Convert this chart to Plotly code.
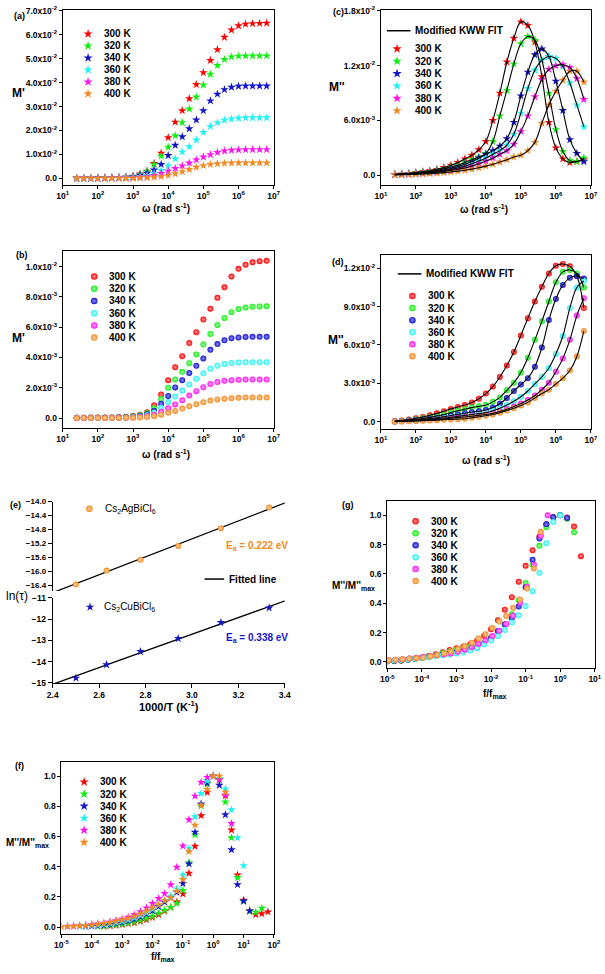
import plotly.graph_objects as go

W, H = 605, 974
FONT = "Liberation Sans"

# ---------------- data ----------------
temps = ["300 K", "320 K", "340 K", "360 K", "380 K", "400 K"]
colors = ["#FF0000", "#11EE11", "#1414C8", "#22F2F2", "#FF14F0", "#F28A22"]
tints = ["#FF9A9A", "#A8FFA8", "#8C8CFF", "#C8FFFF", "#FFA8FA", "#FFD0A0"]

logw = [1.4, 1.6, 1.8, 2.0, 2.2, 2.4, 2.6, 2.8, 3.0, 3.2, 3.4, 3.6, 3.8, 4.0,
        4.2, 4.4, 4.6, 4.8, 5.0, 5.2, 5.4, 5.6, 5.8, 6.0, 6.2, 6.4, 6.6, 6.8]

# (a) M' (x1e-2), Cs2CuBiCl6
a_300 = [0.0, 0.0, 0.0, 0.01, 0.01, 0.02, 0.03, 0.05, 0.09, 0.18, 0.3, 0.62, 1.05, 1.7, 2.35, 2.83, 3.33, 3.92, 4.42, 4.93, 5.38, 5.9, 6.2, 6.38, 6.45, 6.47, 6.48, 6.49]
a_320 = [0.0, 0.0, 0.0, 0.01, 0.01, 0.02, 0.03, 0.05, 0.08, 0.16, 0.3, 0.57, 0.93, 1.3, 1.78, 2.33, 2.9, 3.4, 3.9, 4.35, 4.72, 4.97, 5.08, 5.11, 5.12, 5.12, 5.12, 5.12]
a_340 = [0.0, 0.0, 0.0, 0.01, 0.01, 0.02, 0.02, 0.04, 0.07, 0.13, 0.22, 0.35, 0.58, 0.95, 1.38, 1.74, 2.07, 2.44, 2.83, 3.24, 3.52, 3.71, 3.81, 3.85, 3.86, 3.86, 3.86, 3.86]
a_360 = [0.0, 0.0, 0.0, 0.0, 0.01, 0.01, 0.02, 0.03, 0.04, 0.07, 0.12, 0.2, 0.33, 0.52, 0.82, 1.1, 1.32, 1.6, 1.92, 2.17, 2.33, 2.43, 2.48, 2.51, 2.53, 2.53, 2.53, 2.53]
a_380 = [0.0, 0.0, 0.0, 0.0, 0.0, 0.01, 0.01, 0.01, 0.02, 0.04, 0.07, 0.12, 0.2, 0.3, 0.41, 0.52, 0.64, 0.77, 0.89, 0.99, 1.08, 1.14, 1.17, 1.19, 1.2, 1.2, 1.2, 1.2]
a_400 = [0.0, 0.0, 0.0, 0.0, 0.0, 0.0, 0.0, 0.0, 0.0, 0.01, 0.02, 0.04, 0.07, 0.12, 0.19, 0.28, 0.37, 0.46, 0.53, 0.58, 0.61, 0.63, 0.64, 0.64, 0.64, 0.64, 0.64, 0.64]

# (b) M' (x1e-3), Cs2AgBiCl6
b_300 = [0.02, 0.02, 0.03, 0.03, 0.04, 0.04, 0.05, 0.08, 0.13, 0.22, 0.38, 0.85, 1.55, 2.5, 3.35, 4.08, 4.95, 5.67, 6.5, 7.22, 7.95, 8.63, 9.35, 9.85, 10.12, 10.28, 10.36, 10.38]
b_320 = [0.02, 0.02, 0.02, 0.03, 0.03, 0.03, 0.04, 0.06, 0.1, 0.18, 0.32, 0.65, 1.25, 2.0, 2.55, 3.05, 3.62, 4.2, 4.85, 5.55, 6.15, 6.6, 6.98, 7.2, 7.3, 7.35, 7.37, 7.38]
b_340 = [0.01, 0.01, 0.02, 0.02, 0.02, 0.02, 0.03, 0.05, 0.08, 0.14, 0.25, 0.48, 0.95, 1.46, 2.02, 2.5, 2.98, 3.45, 3.93, 4.5, 4.88, 5.13, 5.27, 5.32, 5.35, 5.36, 5.36, 5.36]
b_360 = [0.01, 0.01, 0.01, 0.01, 0.01, 0.01, 0.02, 0.03, 0.06, 0.1, 0.18, 0.35, 0.68, 1.05, 1.42, 1.82, 2.22, 2.6, 2.95, 3.25, 3.45, 3.57, 3.63, 3.66, 3.68, 3.68, 3.68, 3.68]
b_380 = [0.0, 0.0, 0.0, 0.01, 0.01, 0.01, 0.01, 0.02, 0.04, 0.07, 0.12, 0.22, 0.42, 0.65, 0.9, 1.18, 1.48, 1.77, 2.03, 2.25, 2.38, 2.46, 2.5, 2.53, 2.55, 2.55, 2.55, 2.55]
b_400 = [0.0, 0.0, 0.0, 0.0, 0.0, 0.0, 0.0, 0.01, 0.02, 0.04, 0.07, 0.12, 0.22, 0.34, 0.47, 0.62, 0.77, 0.91, 1.04, 1.15, 1.23, 1.28, 1.31, 1.33, 1.35, 1.35, 1.35, 1.35]

# (c) M'' (x1e-2), Cs2CuBiCl6
c_300 = [0.01, 0.015, 0.02, 0.03, 0.04, 0.05, 0.065, 0.085, 0.11, 0.14, 0.18, 0.22, 0.28, 0.37, 0.6, 0.9, 1.24, 1.5, 1.68, 1.64, 1.46, 1.08, 0.58, 0.3, 0.18, 0.14, 0.15, 0.17]
c_320 = [0.01, 0.012, 0.018, 0.025, 0.033, 0.042, 0.055, 0.07, 0.09, 0.11, 0.14, 0.17, 0.2, 0.24, 0.37, 0.65, 0.93, 1.22, 1.44, 1.52, 1.48, 1.26, 0.9, 0.5, 0.26, 0.16, 0.15, 0.19]
c_340 = [0.008, 0.01, 0.015, 0.02, 0.027, 0.035, 0.045, 0.058, 0.075, 0.095, 0.12, 0.15, 0.19, 0.23, 0.27, 0.32, 0.4, 0.58, 0.87, 1.13, 1.32, 1.384, 1.3, 1.03, 0.71, 0.39, 0.24, 0.15]
c_360 = [0.008, 0.01, 0.014, 0.019, 0.025, 0.032, 0.04, 0.05, 0.063, 0.08, 0.1, 0.125, 0.155, 0.19, 0.23, 0.27, 0.33, 0.45, 0.68, 0.95, 1.15, 1.26, 1.3, 1.28, 1.19, 1.01, 0.77, 0.53]
c_380 = [0.006, 0.008, 0.011, 0.015, 0.02, 0.026, 0.033, 0.042, 0.052, 0.065, 0.08, 0.1, 0.125, 0.155, 0.19, 0.23, 0.27, 0.34, 0.48, 0.65, 0.86, 1.05, 1.16, 1.2, 1.21, 1.18, 1.06, 0.83]
c_400 = [0.004, 0.006, 0.008, 0.011, 0.014, 0.018, 0.023, 0.029, 0.036, 0.045, 0.055, 0.067, 0.082, 0.1, 0.12, 0.145, 0.17, 0.2, 0.22, 0.27, 0.36, 0.57, 0.77, 0.92, 1.04, 1.14, 1.14, 1.02]

# (d) M'' (x1e-3), Cs2AgBiCl6
d_300 = [0.05, 0.1, 0.18, 0.27, 0.37, 0.5, 0.65, 0.82, 1.0, 1.15, 1.3, 1.5, 1.8, 2.2, 2.75, 3.5, 4.4, 5.45, 6.75, 8.1, 9.4, 10.55, 11.6, 12.2, 12.34, 12.15, 11.4, 8.9]
d_320 = [0.03, 0.07, 0.12, 0.18, 0.26, 0.34, 0.44, 0.56, 0.72, 0.85, 0.98, 1.1, 1.2, 1.3, 1.55, 1.9, 2.45, 3.05, 3.85, 5.0, 6.4, 7.85, 9.4, 10.9, 11.72, 11.87, 11.6, 10.5]
d_340 = [0.02, 0.05, 0.09, 0.13, 0.18, 0.24, 0.31, 0.39, 0.48, 0.57, 0.66, 0.74, 0.82, 0.92, 1.1, 1.4, 1.85, 2.4, 2.9, 3.4, 4.3, 5.8, 7.95, 9.6, 10.7, 11.25, 11.4, 11.2]
d_360 = [0.02, 0.04, 0.07, 0.1, 0.14, 0.18, 0.23, 0.29, 0.35, 0.42, 0.49, 0.56, 0.63, 0.7, 0.85, 1.05, 1.3, 1.6, 1.95, 2.4, 2.95, 3.5, 4.2, 5.3, 6.7, 8.9, 10.5, 11.0]
d_380 = [0.01, 0.03, 0.05, 0.08, 0.11, 0.14, 0.18, 0.22, 0.27, 0.32, 0.37, 0.43, 0.49, 0.56, 0.66, 0.8, 0.97, 1.18, 1.42, 1.7, 2.05, 2.5, 3.05, 3.9, 4.95, 6.4, 8.3, 9.65]
d_400 = [0.0, 0.01, 0.03, 0.05, 0.07, 0.09, 0.12, 0.15, 0.18, 0.2, 0.23, 0.3, 0.38, 0.46, 0.56, 0.7, 0.87, 1.05, 1.27, 1.51, 1.85, 2.2, 2.5, 2.95, 3.4, 4.0, 5.1, 7.1]

# (e) Arrhenius
e_x = [2.5, 2.632, 2.778, 2.941, 3.125, 3.333]
e_ag = [-16.37, -15.97, -15.66, -15.27, -14.76, -14.17]
e_cu = [-14.77, -14.14, -13.52, -12.91, -12.16, -11.47]
fit_x = [2.4, 3.42]
fit_ag = [-16.6, -13.99]
fit_cu = [-15.06, -11.07]

# (g) normalisation constants (peak log10 omega, M''max x1e-3)
g_peak_logw = [6.2, 6.4, 6.6, 6.8, 7.16, 7.36]
g_peak_val = [12.34, 11.87, 11.4, 11.0, 9.65, 8.0]

a_set = [a_300, a_320, a_340, a_360, a_380, a_400]
b_set = [b_300, b_320, b_340, b_360, b_380, b_400]
c_set = [c_300, c_320, c_340, c_360, c_380, c_400]
d_set = [d_300, d_320, d_340, d_360, d_380, d_400]

omega = [10 ** v for v in logw]

# normalised scaling for (f) from (c)
f_x, f_y = [], []
for vals in c_set:
    i = max(range(len(vals)), key=lambda k: vals[k])
    f_x.append([10 ** (lw - logw[i]) for lw in logw])
    f_y.append([v / vals[i] for v in vals])
# normalised scaling for (g) from (d)
g_x, g_y = [], []
for vals, pl, pv in zip(d_set, g_peak_logw, g_peak_val):
    g_x.append([10 ** (lw - pl) for lw in logw])
    g_y.append([v / pv for v in vals])

STAR = 6.5
CIRC = 6

# ---------------- helpers ----------------
def dom_x(a, b):
    return [a / W, b / W]

def dom_y(top, bot):
    return [1 - bot / H, 1 - top / H]

def base_axis(**kw):
    d = dict(showline=True, linecolor="black", linewidth=1, mirror=True,
             ticks="outside", ticklen=3, tickwidth=1, tickcolor="black",
             showgrid=False, zeroline=False,
             tickfont=dict(family=FONT, size=8.5, color="black", weight="bold"))
    d.update(kw)
    return d

def logticks(lo, hi):
    return dict(tickvals=[10 ** k for k in range(lo, hi + 1)],
                ticktext=["10<sup>%d</sup>" % k for k in range(lo, hi + 1)])

fig = go.Figure()

def add_series(xs, ys, xa, ya, symbol, size, gradient=False, fit=False):
    for i in range(6):
        mk = dict(symbol=symbol, size=size, color=colors[i], line=dict(width=0))
        if gradient:
            mk["gradient"] = dict(type="radial", color=tints[i])
        xv = xs[i] if isinstance(xs[0], list) else xs
        fig.add_trace(go.Scatter(x=xv, y=ys[i], mode="markers", marker=mk,
                                 xaxis=xa, yaxis=ya, showlegend=False,
                                 cliponaxis=True))
    if fit:
        for i in range(6):
            xv = xs[i] if isinstance(xs[0], list) else xs
            fig.add_trace(go.Scatter(x=xv, y=ys[i], mode="lines",
                                     line=dict(color="black", width=1.1, shape="spline", smoothing=1.0),
                                     xaxis=xa, yaxis=ya, showlegend=False))

add_series(omega, a_set, "x", "y", "star", STAR)
add_series(omega, b_set, "x2", "y2", "circle", CIRC, gradient=True)
add_series(omega, c_set, "x3", "y3", "star", STAR, fit=True)
add_series(omega, d_set, "x4", "y4", "circle", CIRC, gradient=True, fit=True)
add_series(g_x, g_y, "x7", "y7", "circle", CIRC, gradient=True)
add_series(f_x, f_y, "x8", "y8", "star", STAR)

# (e)
fig.add_trace(go.Scatter(x=fit_x, y=fit_ag, mode="lines", line=dict(color="black", width=1.3),
                         xaxis="x5", yaxis="y6", showlegend=False))
fig.add_trace(go.Scatter(x=e_x, y=e_ag, mode="markers",
                         marker=dict(symbol="circle", size=CIRC, color=colors[5],
                                     gradient=dict(type="radial", color=tints[5])),
                         xaxis="x5", yaxis="y6", showlegend=False))
fig.add_trace(go.Scatter(x=fit_x, y=fit_cu, mode="lines", line=dict(color="black", width=1.3),
                         xaxis="x5", yaxis="y5", showlegend=False))
fig.add_trace(go.Scatter(x=e_x, y=e_cu, mode="markers",
                         marker=dict(symbol="star", size=STAR, color=colors[2]),
                         xaxis="x5", yaxis="y5", showlegend=False))

# ---------------- legends (overlay in pixel space) ----------------
ann = []

def text(x, y, s, size=10, color="black", bold=True, xa="left", ya="middle"):
    ann.append(dict(x=x / W, y=1 - y / H, xref="paper", yref="paper", text=s,
                    showarrow=False, xanchor=xa, yanchor=ya,
                    font=dict(family=FONT, size=size, color=color,
                              weight="bold" if bold else "normal")))

def legend_block(mx, y0, dy, tx, symbol, size, gradient=False):
    ys = [y0 + dy * i for i in range(6)]
    mk = dict(symbol=symbol, size=size, color=colors, line=dict(width=0))
    if gradient:
        mk["gradient"] = dict(type="radial", color=tints)
    fig.add_trace(go.Scatter(x=[mx] * 6, y=ys, mode="markers", marker=mk,
                             xaxis="x9", yaxis="y9", showlegend=False))
    for i in range(6):
        text(tx, ys[i], temps[i])

def legend_line(x0, x1, y, tx, label):
    fig.add_trace(go.Scatter(x=[x0, x1], y=[y, y], mode="lines",
                             line=dict(color="black", width=1.5),
                             xaxis="x9", yaxis="y9", showlegend=False))
    text(tx, y, label)

legend_block(83, 29.3, 12.1, 97, "star", STAR + 0.5)
legend_line(389, 413, 26, 416, "Modified KWW FIT")
legend_block(399.3, 44.3, 12.5, 416, "star", STAR + 0.5)
legend_block(89.3, 274.3, 12.35, 102.7, "circle", CIRC + 0.5, gradient=True)
legend_line(400, 424.3, 271.7, 427, "Modified KWW FIT")
legend_block(415, 294, 12.2, 429.3, "circle", CIRC + 0.5, gradient=True)
legend_block(418.3, 521.7, 12.06, 431.7, "circle", CIRC + 0.5, gradient=True)
legend_block(79, 785, 12.2, 93.3, "star", STAR + 0.5)

# (e) legend
fig.add_trace(go.Scatter(x=[84.3], y=[509], mode="markers",
                         marker=dict(symbol="circle", size=CIRC + 0.5, color=colors[5],
                                     gradient=dict(type="radial", color=tints[5])),
                         xaxis="x9", yaxis="y9", showlegend=False))
fig.add_trace(go.Scatter(x=[85], y=[608.3], mode="markers",
                         marker=dict(symbol="star", size=STAR, color=colors[2]),
                         xaxis="x9", yaxis="y9", showlegend=False))
text(98, 509, "Cs<sub>2</sub>AgBiCl<sub>6</sub>", size=10, bold=False)
text(97.7, 608.3, "Cs<sub>2</sub>CuBiCl<sub>6</sub>", size=10, bold=False)
legend_line(202.3, 222.3, 580, 225, "Fitted line")
text(222, 546.7, "E<sub>a</sub> = 0.222 eV", size=10, color=colors[5])
text(222, 639.3, "E<sub>a</sub> = 0.338 eV", size=10, color=colors[2])

# panel labels
for (x, y, s) in [(12.7, 10.7, "(a)"), (339, 7.3, "(c)"), (15, 253, "(b)"), (339, 260, "(d)"),
                  (9, 505, "(e)"), (349, 505, "(g)"), (12.7, 769, "(f)")]:
    text(x, y, s, size=9, xa="center")

# axis titles
text(12, 89.3, "M'", size=12, xa="center")
text(12, 336.7, "M'", size=12, xa="center")
text(338, 83.3, "M''", size=12, xa="center")
text(337, 338.3, "M''", size=12, xa="center")
text(10, 597, "ln(\u03c4)", size=12, bold=False, xa="center")
text(355, 586.7, "M''/M''<sub>max</sub>", size=10, xa="center")
text(21, 846.7, "M''/M''<sub>max</sub>", size=10, xa="center")
text(163, 205, "\u03c9 (rad s<sup>-1</sup>)", size=10, xa="center")
text(488, 206, "\u03c9 (rad s<sup>-1</sup>)", size=10, xa="center")
text(163, 454, "\u03c9 (rad s<sup>-1</sup>)", size=10, xa="center")
text(490, 460, "\u03c9 (rad s<sup>-1</sup>)", size=10, xa="center")
text(166, 708, "1000/T (K<sup>-1</sup>)", size=11, xa="center")
text(500, 696, "f/f<sub>max</sub>", size=10, xa="center")
text(160, 962, "f/f<sub>max</sub>", size=10, xa="center")

# ---------------- axes ----------------
layout = dict(
    width=W, height=H, margin=dict(l=0, r=0, t=0, b=0),
    paper_bgcolor="white", plot_bgcolor="rgba(0,0,0,0)", showlegend=False,
    xaxis=base_axis(type="log", range=[1, 7], domain=dom_x(57, 273), anchor="y", **logticks(1, 7)),
    yaxis=base_axis(range=[-0.276, 7.04], domain=dom_y(5, 181.7), anchor="x",
                    tickvals=[0, 1, 2, 3, 4, 5, 6, 7],
                    ticktext=["0.0"] + ["%.1fx10<sup>-2</sup>" % v for v in range(1, 8)]),
    xaxis2=base_axis(type="log", range=[1, 7], domain=dom_x(57, 273), anchor="y2", **logticks(1, 7)),
    yaxis2=base_axis(range=[-0.634, 11.0], domain=dom_y(249, 427), anchor="x2",
                     tickvals=[0, 2, 4, 6, 8, 10],
                     ticktext=["0.0", "2.0x10<sup>-3</sup>", "4.0x10<sup>-3</sup>", "6.0x10<sup>-3</sup>",
                               "8.0x10<sup>-3</sup>", "1.0x10<sup>-2</sup>"]),
    xaxis3=base_axis(type="log", range=[1, 7], domain=dom_x(382.7, 597.7), anchor="y3", **logticks(1, 7)),
    yaxis3=base_axis(range=[-0.108, 1.81], domain=dom_y(5, 182), anchor="x3",
                     tickvals=[0, 0.6, 1.2, 1.8],
                     ticktext=["0.0", "6.0x10<sup>-3</sup>", "1.2x10<sup>-2</sup>", "1.8x10<sup>-2</sup>"]),
    xaxis4=base_axis(type="log", range=[1, 7], domain=dom_x(382.7, 597.7), anchor="y4", **logticks(1, 7)),
    yaxis4=base_axis(range=[-0.565, 13.03], domain=dom_y(252.7, 428.3), anchor="x4",
                     tickvals=[0, 3, 6, 9, 12],
                     ticktext=["0.0", "3.0x10<sup>-3</sup>", "6.0x10<sup>-3</sup>", "9.0x10<sup>-3</sup>",
                               "1.2x10<sup>-2</sup>"]),
    xaxis5=base_axis(range=[2.4, 3.4], domain=dom_x(46.8, 284.3), anchor="y5", mirror=False,
                     tickvals=[2.4, 2.6, 2.8, 3.0, 3.2, 3.4], tickformat=".1f", ticklen=4),
    yaxis5=base_axis(range=[-15, -11], domain=dom_y(599, 685), anchor="x5", mirror=False,
                     tickvals=[-15, -14, -13, -12, -11], ticklen=4),
    yaxis6=base_axis(range=[-16.55, -14.0], domain=dom_y(501.7, 592), anchor="x5", mirror=False,
                     tickvals=[-14.0, -14.4, -14.8, -15.2, -15.6, -16.0, -16.4], tickformat=".1f", ticklen=4,
                     tickfont=dict(family=FONT, size=8, color="black", weight="bold")),
    xaxis7=base_axis(type="log", range=[-5, 1], domain=dom_x(389.3, 601.7), anchor="y7", **logticks(-5, 1)),
    yaxis7=base_axis(range=[-0.0426, 1.101], domain=dom_y(500.7, 670), anchor="x7",
                     tickvals=[0, 0.2, 0.4, 0.6, 0.8, 1.0], tickformat=".1f"),
    xaxis8=base_axis(type="log", range=[-5, 2], domain=dom_x(55.7, 273.3), anchor="y8", **logticks(-5, 2)),
    yaxis8=base_axis(range=[-0.043, 1.092], domain=dom_y(765, 938.3), anchor="x8",
                     tickvals=[0, 0.2, 0.4, 0.6, 0.8, 1.0], tickformat=".1f"),
    xaxis9=dict(domain=[0, 1], range=[0, W], visible=False, fixedrange=True, anchor="y9"),
    yaxis9=dict(domain=[0, 1], range=[H, 0], visible=False, fixedrange=True, anchor="x9"),
    annotations=ann,
)
fig.update_layout(**layout)
fig.write_html("out.html")
